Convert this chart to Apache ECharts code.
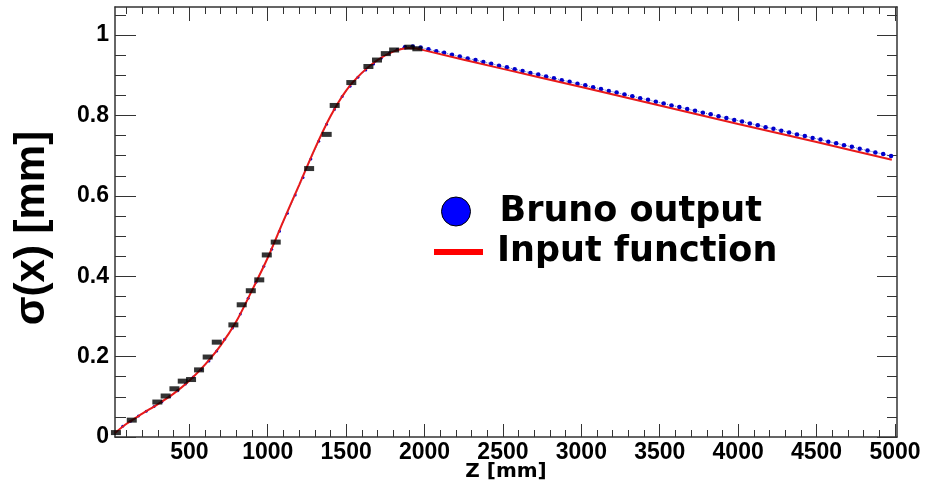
<!DOCTYPE html>
<html><head><meta charset="utf-8">
<script src="https://cdn.jsdelivr.net/npm/echarts@6/dist/echarts.min.js"></script>
<style>html,body{margin:0;padding:0;background:#fff}#c{width:927px;height:488px}</style>
</head><body><div id="c"></div>
<script>
// ---- tick labels ----
const zMajorTicks = [500, 1000, 1500, 2000, 2500, 3000, 3500, 4000, 4500, 5000];
const sigmaMajorTicks = [0, 0.2, 0.4, 0.6, 0.8, 1];

// ---- Bruno output (blue points) ----
const brunoZ = [25,75,125,175,225,275,325,375,425,475,525,575,625,675,725,775,825,875,925,975,
  1025,1075,1125,1175,1225,1275,1325,1375,1425,1475,1525,1575,1625,1675,1725,1775,1825,1875,1925,1975,
  2025,2075,2125,2175,2225,2275,2325,2375,2425,2475,2525,2575,2625,2675,2725,2775,2825,2875,2925,2975,
  3025,3075,3125,3175,3225,3275,3325,3375,3425,3475,3525,3575,3625,3675,3725,3775,3825,3875,3925,3975,
  4025,4075,4125,4175,4225,4275,4325,4375,4425,4475,4525,4575,4625,4675,4725,4775,4825,4875,4925,4975];
const brunoSigma = [0.010,0.027,0.039,0.052,0.064,0.076,0.088,0.101,0.115,0.132,0.149,0.168,0.189,0.214,0.243,0.271,0.306,0.345,0.385,0.425,
  0.467,0.512,0.557,0.602,0.646,0.692,0.736,0.778,0.815,0.847,0.873,0.895,0.913,0.928,0.943,0.955,0.964,0.970,0.972,0.969,
  0.965,0.960,0.956,0.951,0.947,0.942,0.938,0.933,0.929,0.924,0.920,0.915,0.911,0.906,0.902,0.897,0.893,0.888,0.884,0.879,
  0.875,0.870,0.866,0.861,0.857,0.852,0.848,0.843,0.839,0.834,0.830,0.825,0.821,0.816,0.812,0.807,0.803,0.798,0.794,0.789,
  0.785,0.780,0.776,0.771,0.767,0.762,0.758,0.753,0.749,0.744,0.740,0.735,0.731,0.726,0.722,0.717,0.713,0.708,0.704,0.699];

// ---- black markers ----
const blackZ = [32,133,296,349,405,458,511,562,617,675,781,834,892,946,994,1051,1264,1376,1427,1533,1642,1697,1753,1806,1903,1954];
const blackSigma = [0.011,0.042,0.087,0.102,0.120,0.139,0.143,0.167,0.199,0.236,0.279,0.329,0.364,0.391,0.453,0.485,0.668,0.753,0.825,0.882,0.922,0.938,0.954,0.963,0.970,0.966];

// ---- Input function (red curve) ----
const inputZ = [26,100,200,300,400,500,600,700,800,900,1000,1100,1200,1300,1400,1500,1600,1700,1800,1900,1950,2000,2500,3000,3500,4000,4500,4980];
const inputSigma = [0.010,0.033,0.058,0.082,0.108,0.140,0.180,0.228,0.288,0.365,0.446,0.538,0.627,0.717,0.798,0.862,0.906,0.938,0.959,0.968,0.967,0.962,0.916,0.871,0.825,0.779,0.734,0.690];

// minor tick positions (axis decoration)
const zMinorTicks = [];
for (let v = 100; v <= 5000; v += 100) if (v % 500 !== 0) zMinorTicks.push(v);
const sigmaMinorTicks = [];
for (let k = 1; k <= 21; k++) if (k % 4 !== 0) sigmaMinorTicks.push(+(k * 0.05).toFixed(2));

const zip = (a, b) => a.map((v, i) => [v, b[i]]);
const frame = { color: '#333', width: 1.5 };
const tickLs = { color: '#333', width: 1 };
const XMIN = 26, XMAX = 5013, YMIN = 0, YMAX = 1.07;
const tickFont = { fontFamily: 'Liberation Sans', fontWeight: 'bold', fontSize: 23, color: '#000' };

function xAx(pos, ticks, len, line, extra) {
  return Object.assign({
    type: 'value', position: pos, min: XMIN, max: XMAX,
    axisLine: { show: line, onZero: false, lineStyle: frame },
    axisTick: { show: true, inside: true, length: len, customValues: ticks, lineStyle: tickLs },
    axisLabel: { show: false }, splitLine: { show: false }
  }, extra || {});
}
function yAx(pos, ticks, len, line, extra) {
  return Object.assign({
    type: 'value', position: pos, min: YMIN, max: YMAX,
    axisLine: { show: line, onZero: false, lineStyle: frame },
    axisTick: { show: true, inside: true, length: len, customValues: ticks, lineStyle: tickLs },
    axisLabel: { show: false }, splitLine: { show: false }
  }, extra || {});
}

const chart = echarts.init(document.getElementById('c'), null, { renderer: 'canvas' });
chart.setOption({
  animation: false,
  backgroundColor: '#fff',
  grid: { left: 115, right: 30, top: 7, bottom: 51, containLabel: false, outerBoundsMode: 'none' },
  xAxis: [
    xAx('bottom', zMajorTicks, 13, true, {
      axisLabel: Object.assign({ show: true, customValues: zMajorTicks, margin: 4, formatter: (v) => String(v) }, tickFont),
      name: 'Z [mm]', nameLocation: 'middle', nameGap: 25, nameMoveOverlap: false,
      nameTextStyle: { fontFamily: 'DejaVu Sans', fontWeight: 'bold', fontSize: 20, color: '#000' }
    }),
    xAx('bottom', zMinorTicks, 7, false),
    xAx('top', zMajorTicks, 14, true),
    xAx('top', zMinorTicks, 7, false)
  ],
  yAxis: [
    yAx('left', sigmaMajorTicks, 21, true, {
      axisLabel: Object.assign({ show: true, customValues: sigmaMajorTicks, margin: 6, formatter: (v) => String(v),
        verticalAlign: 'middle', verticalAlignMinLabel: 'middle', verticalAlignMaxLabel: 'middle' }, tickFont),
      name: 'σ(x) [mm]', nameLocation: 'middle', nameGap: 62, nameMoveOverlap: false,
      nameTextStyle: { fontFamily: 'Liberation Sans', fontWeight: 'bold', fontSize: 42, color: '#000', padding: [0, 12, 0, 0] }
    }),
    yAx('left', sigmaMinorTicks, 11, false),
    yAx('right', sigmaMajorTicks, 20, true),
    yAx('right', sigmaMinorTicks, 10, false)
  ],
  legend: [
    {
      left: 436, top: 181, itemWidth: 77, itemHeight: 29, selectedMode: false,
      data: [{ name: 'Bruno output', icon: 'circle', itemStyle: { color: '#0000ff', borderColor: '#000', borderWidth: 1 } }],
      textStyle: { fontFamily: 'DejaVu Sans', fontWeight: 'bold', fontSize: 35, color: '#000', lineHeight: 40, padding: [0, 0, 11, 0] }
    },
    {
      left: 429, top: 224, itemWidth: 49, itemHeight: 6, selectedMode: false,
      data: [{ name: 'Input function', icon: 'rect', itemStyle: { color: '#ff0000' } }],
      textStyle: { fontFamily: 'DejaVu Sans', fontWeight: 'bold', fontSize: 35, color: '#000', lineHeight: 40, padding: [6, 0, 0, 9] }
    }
  ],
  series: [
    {
      name: 'Bruno output', type: 'line', xAxisIndex: 0, yAxisIndex: 0,
      data: zip(brunoZ, brunoSigma),
      symbol: 'circle', symbolSize: (v) => (v[0] < 1850 ? 3 : 4.5), showAllSymbol: true,
      itemStyle: { color: '#0000cc' },
      lineStyle: { color: '#5566cc', width: 1, type: 'dotted' },
      z: 2
    },
    {
      name: 'Input function', type: 'line', xAxisIndex: 0, yAxisIndex: 0,
      data: zip(inputZ, inputSigma), smooth: 0.3, showSymbol: false,
      lineStyle: { color: '#e81a1a', width: 2 }, itemStyle: { color: '#ff0000' },
      z: 3
    },
    {
      name: 'Bruno bins', type: 'scatter', xAxisIndex: 0, yAxisIndex: 0,
      data: zip(blackZ, blackSigma), symbol: 'rect', symbolSize: [10, 5],
      itemStyle: { color: '#000' }, z: 4
    }
  ]
});
</script></body></html>
